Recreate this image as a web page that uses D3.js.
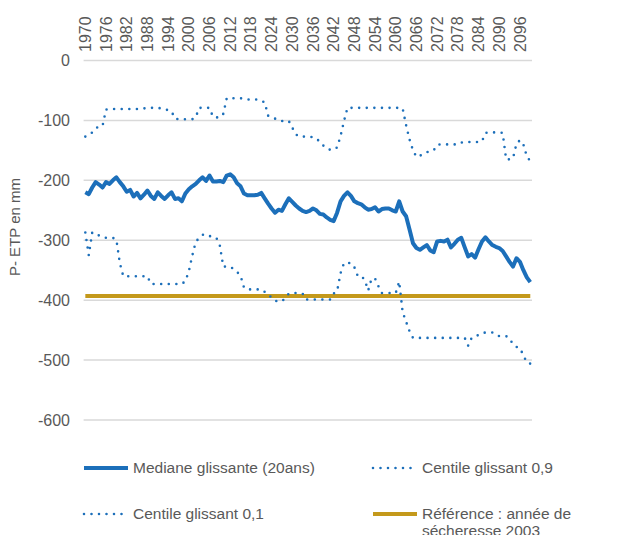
<!DOCTYPE html>
<html>
<head>
<meta charset="utf-8">
<script src="https://cdn.jsdelivr.net/npm/d3@7"></script>
<style>
  body { margin: 0; background: #fff; }
  text { font-family: "Liberation Sans", Arial, sans-serif; fill: #595959; }
</style>
</head>
<body>
<div id="chart"></div>
<script>
// chart data (P - ETP en mm), one value per year 1970..2099
var years = d3.range(1970, 2100);
var yearTicks = [1970, 1976, 1982, 1988, 1994, 2000, 2006, 2012, 2018, 2024, 2030,
  2036, 2042, 2048, 2054, 2060, 2066, 2072, 2078, 2084, 2090, 2096];
var yTicks = [0, -100, -200, -300, -400, -500, -600];

var mediane = [
  -220, -223, -212, -203, -207, -212, -203, -206, -200, -195,
  -203, -210, -219, -216, -227, -221, -230, -224, -217, -226,
  -231, -220, -226, -231, -225, -220, -231, -230, -235, -222,
  -215, -210, -206, -200, -195, -201, -192, -202, -202, -201,
  -203, -192, -190, -195, -205, -210, -222, -225, -225, -225,
  -224, -221, -230, -239, -247, -254, -249, -251, -240, -230,
  -236, -242, -247, -251, -253, -251, -247, -250, -256, -257,
  -262, -266, -268, -254, -235, -226, -220, -226, -235, -238,
  -240, -245, -249, -248, -245, -252, -248, -247, -247, -250,
  -252, -235, -252, -260, -282, -305, -313, -316, -312, -308,
  -317, -320, -302, -301, -302, -299, -312, -306, -299, -296,
  -312, -327, -323, -329, -315, -302, -295, -302, -308, -311,
  -313, -318, -327, -336, -344, -330, -336, -350, -362, -370
];

var centile09 = [
  -127, -124, -120, -113, -110, -109, -82, -81, -81, -81,
  -81, -81, -81, -81, -81, -81, -81, -80, -79, -79,
  -79, -79, -80, -81, -83, -85, -97, -98, -98, -98,
  -98, -98, -95, -79, -79, -79, -79, -94, -95, -95,
  -89, -63, -63, -63, -63, -63, -64, -65, -65, -65,
  -65, -67, -70, -92, -95, -97, -100, -101, -101, -101,
  -112, -123, -127, -127, -127, -127, -128, -130, -136, -142,
  -147, -149, -149, -145, -126, -101, -79, -79, -79, -79,
  -79, -79, -79, -79, -79, -79, -79, -79, -79, -79,
  -79, -79, -80, -108, -132, -150, -161, -159, -156, -153,
  -152, -150, -141, -140, -140, -140, -140, -140, -140, -137,
  -136, -136, -136, -136, -136, -135, -121, -120, -120, -120,
  -120, -121, -165, -165, -163, -139, -133, -140, -160, -168
];

var centile01 = [
  -287, -325, -287, -290, -292, -295, -296, -296, -296, -299,
  -338, -360, -360, -360, -360, -360, -360, -360, -360, -373,
  -373, -373, -373, -373, -373, -373, -373, -373, -373, -368,
  -352, -326, -303, -296, -291, -290, -293, -294, -296, -309,
  -344, -344, -344, -348, -353, -359, -379, -382, -382, -382,
  -382, -382, -386, -390, -396, -401, -402, -402, -396, -389,
  -388, -388, -388, -389, -399, -399, -399, -399, -399, -399,
  -399, -399, -389, -385, -355, -338, -338, -338, -345, -360,
  -360, -366, -384, -364, -364, -377, -388, -388, -388, -388,
  -388, -369, -420, -436, -452, -463, -463, -463, -463, -463,
  -463, -463, -463, -463, -463, -463, -463, -463, -463, -463,
  -463, -476, -463, -461, -458, -455, -454, -454, -454, -458,
  -460, -460, -460, -464, -474, -478, -480, -492, -504, -506
];

// reference : drought year 2003
var reference2003 = -393;

var legendLabels = ["Mediane glissante (20ans)", "Centile glissant 0,9",
  "Centile glissant 0,1", "Référence : année de|sécheresse 2003"];

var blue = "#1c6fba";
var gold = "#c4991b";

var svgWidth = 638;
var svgHeight = 535;

var svg = d3.select("#chart").append("svg")
  .attr("width", svgWidth)
  .attr("height", svgHeight);

var xScale = d3.scaleBand()
  .domain(years)
  .range([83.6, 532]);

var yScale = d3.scaleLinear()
  .domain([-600, 0])
  .range([420, 60.5]);

function xc(year) {
  return xScale(year) + xScale.bandwidth() / 2;
}

// gridlines
svg.append("g")
  .selectAll("line")
  .data(yTicks)
  .enter()
  .append("line")
  .attr("x1", 83.6)
  .attr("x2", 532)
  .attr("y1", d => yScale(d))
  .attr("y2", d => yScale(d))
  .attr("stroke", "#d9d9d9")
  .attr("stroke-width", 1.5);

// y tick labels
svg.append("g")
  .selectAll("text")
  .data(yTicks)
  .enter()
  .append("text")
  .attr("x", 70)
  .attr("y", d => yScale(d))
  .attr("dy", "0.35em")
  .style("text-anchor", "end")
  .style("font-size", "16px")
  .text(d => d);

// year labels on top, rotated
svg.append("g")
  .selectAll("text")
  .data(yearTicks)
  .enter()
  .append("text")
  .attr("transform", d => `translate(${xc(d)}, 52) rotate(-90)`)
  .attr("dy", "0.35em")
  .style("text-anchor", "start")
  .style("font-size", "16px")
  .text(d => d);

// y axis title
svg.append("text")
  .attr("transform", "translate(15, 227) rotate(-90)")
  .attr("dy", "0.35em")
  .style("text-anchor", "middle")
  .style("font-size", "15px")
  .text("P- ETP en mm");

var line = d3.line()
  .x((d, i) => xc(years[i]))
  .y(d => yScale(d));

var refValues = years.map(() => reference2003);

svg.append("path")
  .datum(refValues)
  .attr("d", line)
  .attr("fill", "none")
  .attr("stroke", gold)
  .attr("stroke-width", 4);

svg.append("path")
  .datum(centile09)
  .attr("d", line)
  .attr("fill", "none")
  .attr("stroke", blue)
  .attr("stroke-width", 2.6)
  .attr("stroke-linecap", "round")
  .attr("stroke-dasharray", "0 7.6");

svg.append("path")
  .datum(centile01)
  .attr("d", line)
  .attr("fill", "none")
  .attr("stroke", blue)
  .attr("stroke-width", 2.6)
  .attr("stroke-linecap", "round")
  .attr("stroke-dasharray", "0 7.6");

svg.append("path")
  .datum(mediane)
  .attr("d", line)
  .attr("fill", "none")
  .attr("stroke", blue)
  .attr("stroke-width", 4)
  .attr("stroke-linejoin", "round");

// legend
var legendItems = [
  { x: 83, y: 468, color: blue, dash: null, width: 4 },
  { x: 372, y: 468, color: blue, dash: "0 7.5", width: 2.6 },
  { x: 83, y: 514, color: blue, dash: "0 7.5", width: 2.6 },
  { x: 372, y: 514, color: gold, dash: null, width: 4 }
];

var legend = svg.append("g");

legendItems.forEach(function(item, i) {
  legend.append("line")
    .attr("x1", item.x + 1)
    .attr("x2", item.x + 45)
    .attr("y1", item.y)
    .attr("y2", item.y)
    .attr("stroke", item.color)
    .attr("stroke-width", item.width)
    .attr("stroke-linecap", item.dash ? "round" : "butt")
    .attr("stroke-dasharray", item.dash);

  var label = legend.append("text")
    .attr("x", item.x + 50)
    .attr("y", item.y)
    .style("font-size", "15.5px");

  legendLabels[i].split("|").forEach(function(part, j) {
    label.append("tspan")
      .attr("x", item.x + 50)
      .attr("dy", j === 0 ? "0.35em" : "1.1em")
      .text(part);
  });
});
</script>
</body>
</html>
